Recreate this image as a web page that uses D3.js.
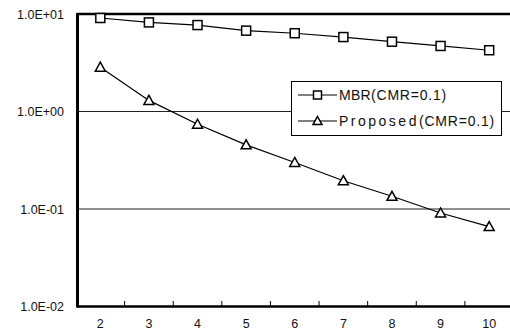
<!DOCTYPE html>
<html>
<head>
<meta charset="utf-8">
<script src="https://cdn.jsdelivr.net/npm/d3@7"></script>
<style>
  body { margin: 0; background: #fff; }
  text { font-family: "Liberation Sans", Arial, sans-serif; fill: #111; }
</style>
</head>
<body>
<script>
// Data
var categories = [2, 3, 4, 5, 6, 7, 8, 9, 10];
var mbr = [9.1, 8.2, 7.7, 6.75, 6.35, 5.8, 5.2, 4.7, 4.25];
var proposed = [2.85, 1.3, 0.74, 0.455, 0.30, 0.195, 0.135, 0.091, 0.066];
var yTicks = [10, 1, 0.1, 0.01];
var yTickLabels = ["1.0E+01", "1.0E+00", "1.0E-01", "1.0E-02"];
var seriesNames = [["MBR", "(CMR=0.1)"], ["Proposed", "(CMR=0.1)"]];

var width = 510, height = 334;

// Skalaer
var xScale = d3.scaleBand().domain(categories).range([76, 513.5]);
var yScale = d3.scaleLog().domain([0.01, 10]).range([306.5, 14]);

var svg = d3.select("body").append("svg").attr("width", width).attr("height", height);

// gitterlinjer
svg.selectAll(".grid")
  .data([1, 0.1])
  .enter()
  .append("line")
  .attr("x1", 77).attr("x2", width)
  .attr("y1", function(d) { return yScale(d); })
  .attr("y2", function(d) { return yScale(d); })
  .attr("stroke", "#222").attr("stroke-width", 1);

// ramme
svg.append("line").attr("x1", 77).attr("x2", width).attr("y1", 14).attr("y2", 14)
  .attr("stroke", "#000").attr("stroke-width", 2.5);
svg.append("line").attr("x1", 77).attr("x2", width).attr("y1", 306.5).attr("y2", 306.5)
  .attr("stroke", "#000").attr("stroke-width", 2.5);
svg.append("line").attr("x1", 77.5).attr("x2", 77.5).attr("y1", 13).attr("y2", 307.5)
  .attr("stroke", "#000").attr("stroke-width", 3);

// x-ticks mellem kategorierne
svg.selectAll(".xtick")
  .data(categories.slice(1))
  .enter()
  .append("line")
  .attr("x1", function(d) { return xScale(d); })
  .attr("x2", function(d) { return xScale(d); })
  .attr("y1", 306).attr("y2", 301)
  .attr("stroke", "#000").attr("stroke-width", 1);

svg.selectAll(".xlab")
  .data(categories)
  .enter()
  .append("text")
  .attr("x", function(d) { return xScale(d) + xScale.bandwidth() / 2; })
  .attr("y", 328)
  .attr("text-anchor", "middle")
  .attr("font-size", 12.5)
  .text(function(d) { return d; });

svg.selectAll(".ylab")
  .data(yTicks)
  .enter()
  .append("text")
  .attr("x", 64)
  .attr("y", function(d) { return yScale(d) + 4.5; })
  .attr("text-anchor", "end")
  .attr("font-size", 12.5)
  .text(function(d, i) { return yTickLabels[i]; });

// linjer
var line = d3.line()
  .x(function(d, i) { return xScale(categories[i]) + xScale.bandwidth() / 2; })
  .y(function(d) { return yScale(d); });

[mbr, proposed].forEach(function(s) {
  svg.append("path").datum(s).attr("d", line)
    .attr("fill", "none").attr("stroke", "#000").attr("stroke-width", 1.2);
});

function square(g, x, y, r) {
  g.append("rect").attr("x", x - r).attr("y", y - r).attr("width", 2 * r).attr("height", 2 * r)
    .attr("fill", "#fff").attr("stroke", "#000").attr("stroke-width", 1.5);
}
function triangle(g, x, y, r) {
  g.append("path")
    .attr("d", "M" + x + "," + (y - r) + "L" + (x + r) + "," + (y + r * 0.8) + "L" + (x - r) + "," + (y + r * 0.8) + "Z")
    .attr("fill", "#fff").attr("stroke", "#000").attr("stroke-width", 1.5);
}

mbr.forEach(function(d, i) {
  square(svg, xScale(categories[i]) + xScale.bandwidth() / 2, yScale(d), 4.5);
});
proposed.forEach(function(d, i) {
  triangle(svg, xScale(categories[i]) + xScale.bandwidth() / 2, yScale(d), 5);
});

// legende
var lg = svg.append("g");
lg.append("rect").attr("x", 291.5).attr("y", 81.5).attr("width", 210).attr("height", 54)
  .attr("fill", "#fff").attr("stroke", "#000").attr("stroke-width", 1);
[95, 121].forEach(function(y, i) {
  lg.append("line").attr("x1", 298).attr("x2", 337).attr("y1", y).attr("y2", y)
    .attr("stroke", "#000").attr("stroke-width", 1.2);
  if (i === 0) square(lg, 317.5, y, 4); else triangle(lg, 317.5, y, 4.5);
  var t = lg.append("text").attr("x", 339).attr("y", y + 5).attr("font-size", 14);
  t.append("tspan").attr("letter-spacing", i === 0 ? 0.3 : 2.5).text(seriesNames[i][0]);
  t.append("tspan").attr("letter-spacing", 0.8).text(seriesNames[i][1]);
});
</script>
</body>
</html>
